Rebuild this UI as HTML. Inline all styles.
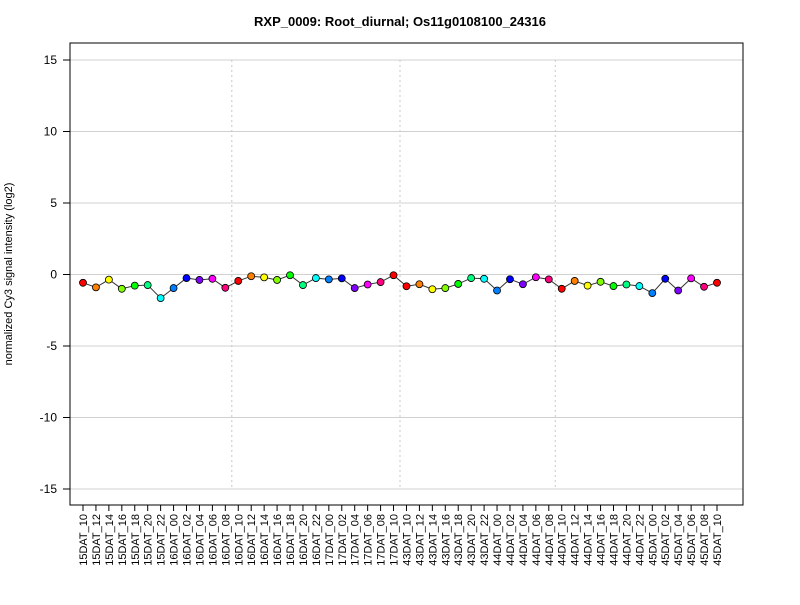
<!DOCTYPE html>
<html><head><meta charset="utf-8"><style>
body{margin:0;background:#fff;}
svg text{font-family:"Liberation Sans",Arial,sans-serif;}
</style></head><body>
<svg id="chart" width="800" height="600" xmlns="http://www.w3.org/2000/svg">
<rect width="800" height="600" fill="#fff"/>
<text x="400" y="26" text-anchor="middle" font-size="13" font-weight="bold">RXP_0009: Root_diurnal; Os11g0108100_24316</text>
<text transform="translate(12,274) rotate(-90)" text-anchor="middle" font-size="11">normalized Cy3 signal intensity (log2)</text>
<g id="grid"></g><g id="series"></g><g id="axes"></g>
<rect x="70" y="43" width="673" height="462" fill="none" stroke="#000" stroke-width="1"/>
</svg>
<script>
const categories=["15DAT_10","15DAT_12","15DAT_14","15DAT_16","15DAT_18","15DAT_20","15DAT_22","16DAT_00","16DAT_02","16DAT_04","16DAT_06","16DAT_08","16DAT_10","16DAT_12","16DAT_14","16DAT_16","16DAT_18","16DAT_20","16DAT_22","17DAT_00","17DAT_02","17DAT_04","17DAT_06","17DAT_08","17DAT_10","43DAT_10","43DAT_12","43DAT_14","43DAT_16","43DAT_18","43DAT_20","43DAT_22","44DAT_00","44DAT_02","44DAT_04","44DAT_06","44DAT_08","44DAT_10","44DAT_12","44DAT_14","44DAT_16","44DAT_18","44DAT_20","44DAT_22","45DAT_00","45DAT_02","45DAT_04","45DAT_06","45DAT_08","45DAT_10"];
const values=[-0.58,-0.9,-0.36,-1.0,-0.78,-0.74,-1.65,-0.95,-0.25,-0.38,-0.3,-0.93,-0.45,-0.12,-0.2,-0.38,-0.05,-0.74,-0.25,-0.34,-0.27,-0.95,-0.7,-0.53,-0.05,-0.82,-0.68,-1.03,-0.95,-0.66,-0.25,-0.3,-1.12,-0.33,-0.68,-0.19,-0.34,-1.0,-0.45,-0.78,-0.51,-0.81,-0.7,-0.81,-1.3,-0.3,-1.12,-0.27,-0.86,-0.58];
const yTicks=[-15,-10,-5,0,5,10,15];
const separators=[11.5,24.5,36.5];
const palette=["#FF0000","#FF8000","#FFFF00","#80FF00","#00FF00","#00FF80","#00FFFF","#0080FF","#0000FF","#8000FF","#FF00FF","#FF0080"];
const NS="http://www.w3.org/2000/svg";
const x0=83,x1=717,yZero=274.5,pxPerUnit=14.3;
const xs=i=>x0+i*(x1-x0)/(categories.length-1);
const ys=v=>yZero-v*pxPerUnit;
function mk(tag,attrs,parent){const e=document.createElementNS(NS,tag);for(const k in attrs)e.setAttribute(k,attrs[k]);parent.appendChild(e);return e;}
const grid=document.getElementById('grid'),series=document.getElementById('series'),axes=document.getElementById('axes');
yTicks.forEach(t=>{
  const g=mk('line',{x1:70,x2:743,y1:ys(t),y2:ys(t),stroke:'#d0d0d0','stroke-width':1},grid);
  
  
  const tk=mk('line',{x1:63,x2:70,y1:ys(t),y2:ys(t),stroke:'#000'},axes);
  
  
  const tx=mk('text',{x:57,y:ys(t)+4,'text-anchor':'end','font-size':12},axes);
  tx.textContent=t;
  
  
});
separators.forEach(s=>{
  const l=mk('line',{x1:xs(s),x2:xs(s),y1:ys(15),y2:ys(-15),stroke:'#c8c8c8','stroke-dasharray':'2,3'},grid);
  
  
});
const pts=values.map((v,i)=>xs(i)+','+ys(v)).join(' ');
const pl=mk('polyline',{points:pts,fill:'none',stroke:'#333','stroke-width':1},series);


categories.forEach((c,i)=>{
  const hr=parseInt(c.slice(-2),10);
  const col=palette[(((hr-10)/2)%12+12)%12];
  const p=mk('circle',{cx:xs(i),cy:ys(values[i]),r:3.5,fill:col,stroke:'#000','stroke-width':0.8},series);
  
  
  const tk=mk('line',{x1:xs(i),x2:xs(i),y1:505,y2:511,stroke:'#000'},axes);
  
  
  const tx=mk('text',{transform:'translate('+(xs(i)+4)+',514) rotate(-90)','text-anchor':'end','font-size':11},axes);
  tx.textContent=c;
  
  
});
</script>
</body></html>
